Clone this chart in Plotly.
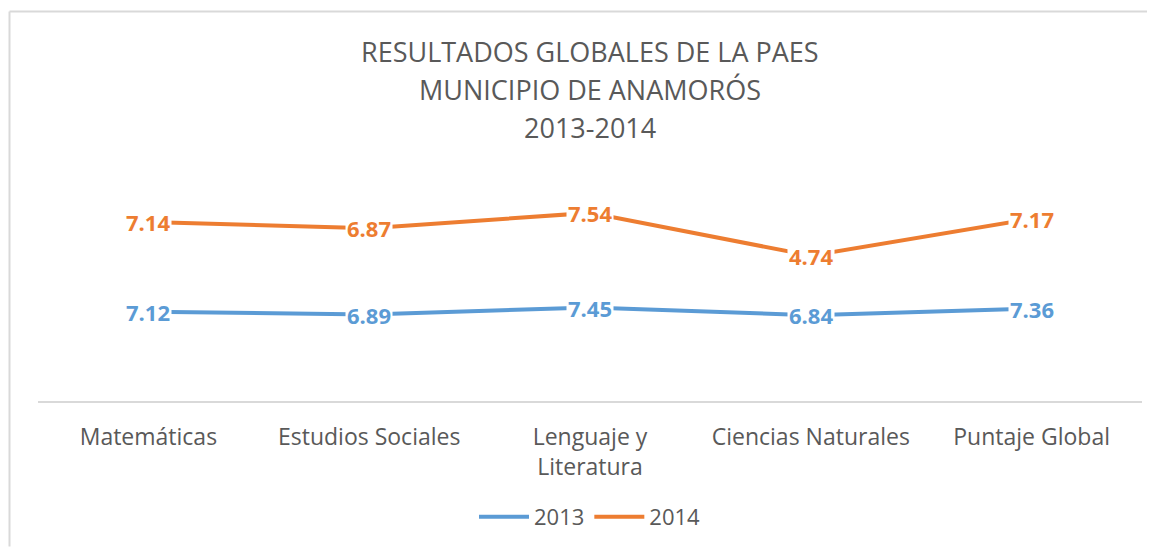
import plotly.graph_objects as go

categories = ["Matemáticas", "Estudios Sociales", "Lenguaje y<br>Literatura", "Ciencias Naturales", "Puntaje Global"]
values_2013 = [7.12, 6.89, 7.45, 6.84, 7.36]
values_2014 = [7.14, 6.87, 7.54, 4.74, 7.17]
series_names = ["2013", "2014"]
colors = ["#5B9BD5", "#ED7D31"]
title_lines = ["RESULTADOS GLOBALES DE LA PAES", "MUNICIPIO DE ANAMORÓS", "2013-2014"]

# Excel "stacked line" chart: 2014 is drawn on top of 2013
stacked_2014 = [a + b for a, b in zip(values_2013, values_2014)]
plot_series = [values_2013, stacked_2014]
label_series = [values_2013, values_2014]

OFF = 8  # page body margin
W, H = 1155 - OFF, 548 - OFF
L, R, T, B = 38 - OFF, 13, 150 - OFF, 146
plot_h = H - T - B

def py(ypx):
    return (H - B - (ypx - OFF)) / plot_h

def px(xpx):
    return ((xpx - OFF) - L) / (W - L - R)

fig = go.Figure()
for name, ys, col in zip(series_names, plot_series, colors):
    fig.add_trace(go.Scatter(x=categories, y=ys, name=name, mode="lines",
                             line=dict(color=col, width=4), hoverinfo="skip"))

annotations = []
for ys, labels, col in zip(plot_series, label_series, colors):
    for c, y, lab in zip(categories, ys, labels):
        annotations.append(dict(x=c, y=y, xref="x", yref="y", text=f"{lab:.2f}",
                                showarrow=False, bgcolor="white", borderpad=1,
                                font=dict(family="Open Sans", size=22, color=col, weight="bold"),
                                xanchor="center", yanchor="middle"))

for t, ypx in zip(title_lines, [51, 89, 127]):
    annotations.append(dict(x=0.5, y=py(ypx), xref="paper", yref="paper", text=t,
                            showarrow=False, xanchor="center", yanchor="middle",
                            font=dict(family="Open Sans", size=27, color="#595959")))

border = dict(color="#d9d9d9", width=2)
fig.update_layout(
    width=W, height=H,
    margin=dict(l=L, r=R, t=T, b=B),
    paper_bgcolor="white", plot_bgcolor="white",
    showlegend=True,
    legend=dict(orientation="h", x=0.5, xanchor="center", y=py(517), yanchor="middle",
                font=dict(family="Open Sans", size=22, color="#595959"),
                itemwidth=50),
    xaxis=dict(type="category", range=[-0.5, 4.5], showgrid=False, zeroline=False,
               showline=True, linecolor="#d9d9d9", linewidth=2, ticks="",
               tickfont=dict(family="Open Sans", size=23, color="#595959"),
               ticklabelstandoff=14),
    yaxis=dict(range=[0, 20], showgrid=False, zeroline=False, showline=False,
               showticklabels=False),
    annotations=annotations,
    shapes=[
        dict(type="line", xref="paper", yref="paper", x0=px(9.5), x1=px(1155), y0=py(11), y1=py(11),
             line=border, layer="below"),
        dict(type="line", xref="paper", yref="paper", x0=px(9.5), x1=px(9.5), y0=py(11), y1=py(548),
             line=border, layer="below"),
    ],
)

fig.write_html("out.html")
